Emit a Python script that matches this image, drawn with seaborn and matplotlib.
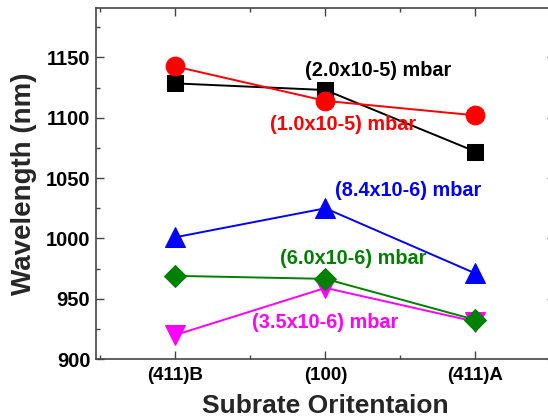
import matplotlib
matplotlib.use("Agg")
import matplotlib.pyplot as plt
import seaborn as sns
import pandas as pd
from matplotlib.ticker import MultipleLocator

categories = ["(411)B", "(100)", "(411)A"]
p20e5 = [1128.5, 1123, 1072]   # (2.0x10-5) mbar, black squares
p10e5 = [1142.5, 1114, 1102]   # (1.0x10-5) mbar, red circles
p84e6 = [1001, 1025, 971]      # (8.4x10-6) mbar, blue triangles
p60e6 = [969, 966.5, 932.5]    # (6.0x10-6) mbar, green diamonds
p35e6 = [920, 959, 931]        # (3.5x10-6) mbar, magenta down-triangles
labels = ["(2.0x10-5) mbar", "(1.0x10-5) mbar", "(8.4x10-6) mbar",
          "(6.0x10-6) mbar", "(3.5x10-6) mbar"]

sns.set_style("ticks")
plt.rcParams['font.family'] = ['Liberation Sans', 'DejaVu Sans']
plt.rcParams['font.weight'] = 'bold'

fig = plt.figure(figsize=(5.48, 4.2), dpi=100)
ax = fig.add_axes([0.175, 0.145, 0.8376, 0.836])

series = [p20e5, p10e5, p84e6, p60e6, p35e6]
colors = ["black", "red", "blue", "green", "magenta"]
markers = ["s", "o", "^", "D", "v"]
msizes = [12, 13.5, 14.5, 11.5, 14.5]
zorders = [2, 3, 2, 3, 2]
xs = list(range(len(categories)))
for vals, c, m, ms, z in zip(series, colors, markers, msizes, zorders):
    df = pd.DataFrame({"x": xs, "y": vals})
    sns.lineplot(data=df, x="x", y="y", color=c, marker=m, markersize=ms,
                 markeredgecolor=c, linewidth=1.4, ax=ax, zorder=z)

text_pos = [(305, 70), (270, 124), (335, 191), (280, 259), (252, 322)]
for lab, c, (px, py) in zip(labels, colors, text_pos):
    fig.text(px / 548, 1 - py / 420, lab, color=c, fontsize=14.3, fontweight='bold',
             ha='left', va='center')

ax.set_xlim(-0.53, 2.53)
ax.set_ylim(900, 1191)
ax.set_xticks(xs)
ax.set_xticklabels(categories)
ax.xaxis.set_minor_locator(MultipleLocator(0.5))
ax.yaxis.set_major_locator(MultipleLocator(50))
ax.yaxis.set_minor_locator(MultipleLocator(25))
ax.tick_params(which='both', direction='in', top=True, right=True,
               width=1, colors='#444444', labelcolor='black')
ax.tick_params(axis='x', labelsize=13.5, pad=6)
ax.tick_params(axis='y', labelsize=14.5, pad=4)
ax.tick_params(which='major', length=6)
ax.tick_params(which='minor', length=3)
for lbl in ax.get_xticklabels() + ax.get_yticklabels():
    lbl.set_fontweight('bold')
for s in ax.spines.values():
    s.set_color('#444444')
    s.set_linewidth(1.2)
ax.set_xlabel("Subrate Oritentaion", fontsize=19, fontweight='bold', labelpad=7)
ax.set_ylabel("Wavelength (nm)", fontsize=20, fontweight='bold', labelpad=6)

fig.savefig("out.png", dpi=100)
